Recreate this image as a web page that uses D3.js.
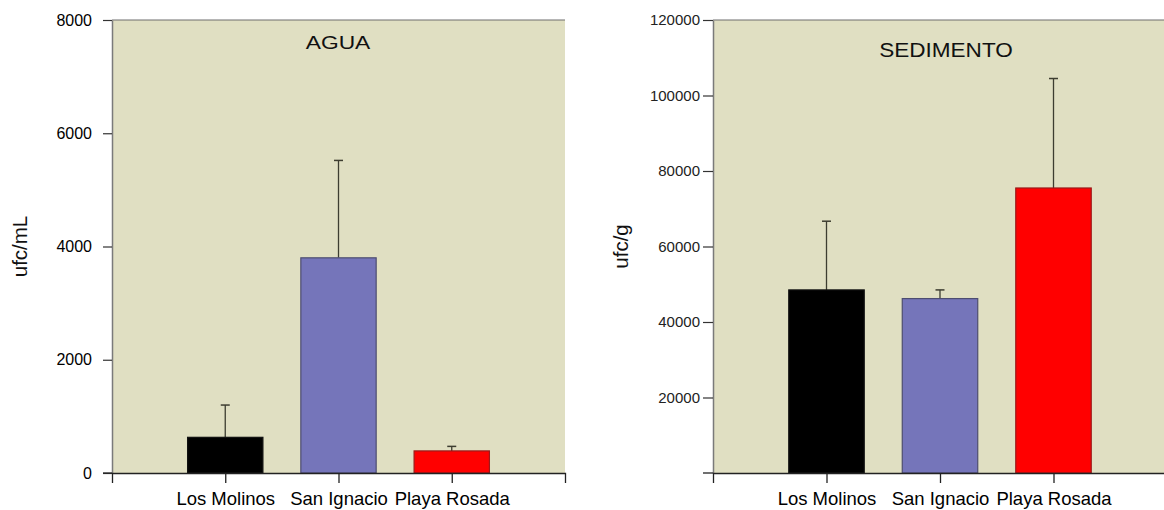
<!DOCTYPE html>
<html>
<head>
<meta charset="utf-8">
<script src="https://cdn.jsdelivr.net/npm/d3@7"></script>
<style>
  html, body { margin: 0; padding: 0; background: #ffffff; }
  svg { display: block; font-family: "Liberation Sans", Arial, Helvetica, sans-serif; }
</style>
</head>
<body>
<svg id="chart" width="1164" height="510"></svg>
<script>
// Sampling sites (shared by both panels)
const sites = ["Los Molinos", "San Ignacio", "Playa Rosada"];

// Water: mean colony counts (ufc/mL) and standard deviation
const aguaMean = [630, 3800, 390];
const aguaSD = [570, 1720, 80];
const aguaTicks = [0, 2000, 4000, 6000, 8000];

// Sediment: mean colony counts (ufc/g) and standard deviation
const sedMean = [48500, 46200, 75500];
const sedSD = [18200, 2300, 29000];
const sedTicks = [20000, 40000, 60000, 80000, 100000, 120000];

const barFill = ["#000000", "#7575BA", "#FF0000"];
const barStroke = ["#111111", "#4d4d70", "#9a1a1a"];

const svg = d3.select("#chart");

function panel(opts) {
  const { x0, x1, y0, y1, title, yLabel, mean, sd, ticks, yMax, tickSize } = opts;

  const x = d3.scalePoint().domain(sites).range([x0, x1]).padding(1);
  const y = d3.scaleLinear().domain([0, yMax]).range([y1, y0]);
  const g = svg.append("g");

  // plot background
  g.append("rect")
    .attr("x", x0).attr("y", y0)
    .attr("width", x1 - x0).attr("height", y1 - y0)
    .attr("fill", "#E0DFC2");

  // top frame line
  g.append("line")
    .attr("x1", x0).attr("x2", x1)
    .attr("y1", y(yMax)).attr("y2", y(yMax))
    .attr("stroke", "#6e6e6e").attr("stroke-width", 1.2);

  const bw = x.step() * 0.665;
  const rows = sites.map((s, i) => ({ site: s, mean: mean[i], sd: sd[i], i }));

  // error bars (upper only)
  const eb = g.append("g").selectAll("g").data(rows).join("g");
  eb.append("line")
    .attr("x1", d => x(d.site)).attr("x2", d => x(d.site))
    .attr("y1", d => y(d.mean)).attr("y2", d => y(d.mean + d.sd))
    .attr("stroke", "#3d3d30").attr("stroke-width", 1.3);
  eb.append("line")
    .attr("x1", d => x(d.site) - 4.5).attr("x2", d => x(d.site) + 4.5)
    .attr("y1", d => y(d.mean + d.sd)).attr("y2", d => y(d.mean + d.sd))
    .attr("stroke", "#3d3d30").attr("stroke-width", 1.5);

  // bars
  g.append("g").selectAll("rect").data(rows).join("rect")
    .attr("x", d => x(d.site) - bw / 2)
    .attr("y", d => y(d.mean))
    .attr("width", bw)
    .attr("height", d => y(0) - y(d.mean))
    .attr("fill", d => barFill[d.i])
    .attr("stroke", d => barStroke[d.i])
    .attr("stroke-width", 1.2);

  // y axis
  const ya = g.append("g")
    .attr("transform", `translate(${x0},0)`)
    .call(d3.axisLeft(y).tickValues(ticks).tickSize(tickSize).tickSizeOuter(0)
      .tickPadding(opts.tickPad).tickFormat(d3.format("d")));
  ya.select(".domain").attr("stroke", "#7a7a7a").attr("stroke-width", 1.5);
  ya.selectAll(".tick line").attr("stroke", "#333").attr("stroke-width", 1.2);
  ya.selectAll(".tick text")
    .attr("font-size", opts.tickFont)
    .attr("fill", opts.tickColor)
    .attr("font-family", "Liberation Sans, Arial, sans-serif");

  // x axis
  const xa = g.append("g")
    .attr("transform", `translate(0,${y1})`)
    .call(d3.axisBottom(x).tickSize(10).tickSizeOuter(10).tickPadding(9));
  xa.select(".domain").attr("stroke", "#222").attr("stroke-width", 1.3);
  xa.selectAll(".tick line").attr("stroke", "#222").attr("stroke-width", 1.3);
  xa.selectAll(".tick text")
    .attr("font-size", 18.5)
    .attr("fill", "#000")
    .attr("dy", "0.68em")
    .attr("font-family", "Liberation Sans, Arial, sans-serif");

  // baseline tick to the left of the y axis
  g.append("line")
    .attr("x1", x0 - tickSize).attr("x2", x0)
    .attr("y1", y1).attr("y2", y1)
    .attr("stroke", "#222").attr("stroke-width", 1.3);

  // panel title
  g.append("text")
    .attr("transform", `translate(${opts.titleX},${opts.titleY}) scale(${opts.titleStretch},1)`)
    .attr("text-anchor", "middle")
    .attr("font-size", opts.titleFont)
    .attr("fill", "#111")
    .text(title);

  // y axis label
  g.append("text")
    .attr("transform", `translate(${opts.labelX},${(y0 + y1) / 2}) rotate(-90)`)
    .attr("text-anchor", "middle")
    .attr("font-size", 20.5)
    .attr("fill", "#111")
    .text(yLabel);
}

panel({
  x0: 112, x1: 565, y0: 20, y1: 473,
  title: "AGUA", titleX: 338, titleY: 49, titleFont: 19, titleStretch: 1.2,
  yLabel: "ufc/mL", labelX: 27,
  mean: aguaMean, sd: aguaSD, ticks: aguaTicks, yMax: 8000,
  tickSize: 9, tickPad: 11, tickFont: 16, tickColor: "#000"
});

panel({
  x0: 713, x1: 1167, y0: 20, y1: 473,
  title: "SEDIMENTO", titleX: 946, titleY: 57, titleFont: 20.5, titleStretch: 1.1,
  yLabel: "ufc/g", labelX: 628,
  mean: sedMean, sd: sedSD, ticks: sedTicks, yMax: 120000,
  tickSize: 10, tickPad: 3, tickFont: 15, tickColor: "#222"
});
</script>
</body>
</html>
